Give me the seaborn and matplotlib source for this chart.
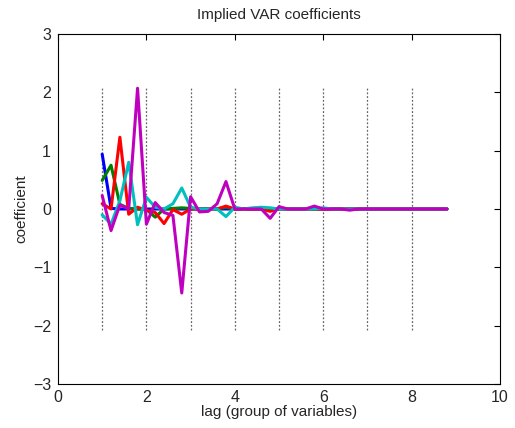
import numpy as np
import pandas as pd
import matplotlib
matplotlib.use("Agg")
import matplotlib.pyplot as plt
import seaborn as sns

# lag groups (8 lags x 5 variables)
lags = [1, 2, 3, 4, 5, 6, 7, 8]
n_vars = 5
series_names = ["v1", "v2", "v3", "v4", "v5"]
series_colors = ["#0000ff", "#008000", "#ff0000", "#00bfbf", "#bf00bf"]

v1 = [0.94, 0.01, 0.00, 0.00, 0.00, 0.00, 0.00, 0.00, 0.00, 0.00,
      0.00, 0.00, 0.00, 0.00, 0.00, 0.00, 0.00, 0.00, 0.00, 0.00,
      0.00, 0.00, 0.00, 0.00, 0.00, 0.00, 0.00, 0.00, 0.00, 0.00,
      0.00, 0.00, 0.00, 0.00, 0.00, 0.00, 0.00, 0.00, 0.00, 0.00]
v2 = [0.49, 0.75, 0.08, 0.01, 0.00, -0.01, -0.14, 0.00, 0.01, 0.02,
      0.01, 0.00, 0.00, 0.00, 0.03, 0.00, 0.00, 0.00, 0.00, 0.00,
      0.00, 0.00, 0.00, 0.00, 0.00, 0.00, 0.00, 0.00, 0.00, 0.00,
      0.00, 0.00, 0.00, 0.00, 0.00, 0.00, 0.00, 0.00, 0.00, 0.00]
v3 = [0.09, 0.00, 1.23, -0.09, 0.03, -0.02, -0.06, -0.25, -0.01, -0.09,
      0.00, 0.00, 0.00, 0.00, 0.05, 0.00, 0.00, 0.00, 0.00, -0.04,
      0.00, 0.00, 0.00, 0.00, 0.00, 0.00, 0.00, 0.00, 0.00, 0.00,
      0.00, 0.00, 0.00, 0.00, 0.00, 0.00, 0.00, 0.00, 0.00, 0.00]
v4 = [-0.10, -0.26, 0.14, 0.80, -0.27, 0.20, 0.03, 0.00, 0.09, 0.36,
      0.03, 0.00, 0.00, 0.00, -0.13, 0.03, 0.00, 0.02, 0.03, 0.02,
      0.00, 0.00, 0.00, 0.00, 0.00, 0.02, 0.00, 0.00, 0.00, 0.00,
      0.00, 0.00, 0.00, 0.00, 0.00, 0.00, 0.00, 0.00, 0.00, 0.00]
v5 = [0.23, -0.37, 0.07, 0.00, 2.07, -0.26, 0.11, -0.06, -0.11, -1.44,
      0.21, -0.05, -0.04, 0.09, 0.47, 0.00, 0.00, 0.00, 0.00, -0.16,
      0.04, 0.00, 0.00, 0.00, 0.05, 0.00, 0.00, 0.00, -0.02, 0.00,
      0.00, 0.00, 0.00, 0.00, 0.00, 0.00, 0.00, 0.00, 0.00, 0.00]

x_ticks = [0, 2, 4, 6, 8, 10]
y_ticks = [-3, -2, -1, 0, 1, 2, 3]

sns.set_style("white")
plt.rcParams["font.family"] = ["Liberation Sans", "DejaVu Sans"]
plt.rcParams["font.size"] = 10

xpos = [lag + j / n_vars for lag in lags for j in range(n_vars)]
values = [v1, v2, v3, v4, v5]
df = pd.DataFrame({
    "x": np.tile(xpos, len(series_names)),
    "y": np.concatenate(values),
    "series": np.repeat(series_names, len(xpos)),
})

fig = plt.figure(figsize=(5.15, 4.28), dpi=100)
ax = fig.add_axes([0.1126, 0.1028, 0.8583, 0.8178])

ymax = np.max(np.abs(df["y"]))
ax.vlines(lags, -ymax, ymax, colors="0.4", linestyles=(0, (1.5, 1.5)), linewidth=0.9, zorder=1)

sns.lineplot(data=df, x="x", y="y", hue="series", palette=series_colors,
             estimator=None, sort=False, linewidth=2.2, legend=False, ax=ax, zorder=2)

ax.set_xlim(0, 10)
ax.set_ylim(-3, 3)
ax.set_xticks(x_ticks)
ax.set_yticks(y_ticks)
ax.tick_params(direction="in", top=True, right=True, length=4, width=0.8,
               labelsize=11.5, color="black")
ax.tick_params(axis="x", pad=4)
ax.tick_params(axis="y", pad=5)
for s in ax.spines.values():
    s.set_color("black")
    s.set_linewidth(0.8)
ax.set_title("Implied VAR coefficients", fontsize=11, pad=11)
ax.set_xlabel("lag (group of variables)", fontsize=11, labelpad=0)
ax.set_ylabel("coefficient", fontsize=11, labelpad=3)

fig.savefig("out.png", dpi=100)
